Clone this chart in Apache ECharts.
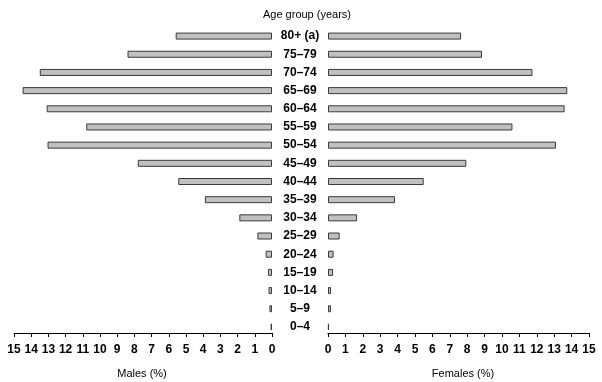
<!DOCTYPE html>
<html>
<head>
<meta charset="utf-8">
<script src="https://cdn.jsdelivr.net/npm/echarts@6/dist/echarts.min.js"></script>
<style>
html,body{margin:0;padding:0;background:#fff;}
#chart{width:602px;height:382px;}
</style>
</head>
<body>
<div id="chart"></div>
<script>
const categories = ['80+ (a)','75–79','70–74','65–69','60–64','55–59','50–54','45–49','40–44','35–39','30–34','25–29','20–24','15–19','10–14','5–9','0–4'];
const males = [5.6, 8.4, 13.5, 14.5, 13.1, 10.8, 13.05, 7.8, 5.45, 3.9, 1.9, 0.85, 0.37, 0.23, 0.2, 0.15, 0.08];
const females = [7.65, 8.85, 11.75, 13.75, 13.6, 10.6, 13.1, 7.95, 5.5, 3.85, 1.67, 0.67, 0.32, 0.29, 0.17, 0.17, 0.05];
const xTicksMin = 0, xTicksMax = 15, xTickStep = 1;
const titleText = 'Age group (years)';
const leftName = 'Males (%)';
const rightName = 'Females (%)';

const FONT = 'Liberation Sans';
const chart = echarts.init(document.getElementById('chart'), null, {renderer:'canvas'});

const gridTop = 27, gridH = 309;
const xAxisCommon = {
  type: 'value', min: xTicksMin, max: xTicksMax, interval: xTickStep,
  offset: -3,
  axisLine: {show: true, lineStyle: {color: '#000', width: 1}},
  axisTick: {show: true, length: 4, lineStyle: {color: '#000', width: 1}},
  axisLabel: {color: '#000', fontFamily: FONT, fontSize: 12, fontWeight: 'bold', margin: 11},
  splitLine: {show: false}
};
const barStyle = {color: '#c0c0c0', borderColor: '#3a3a3a', borderWidth: 1};

chart.setOption({
  animation: false,
  backgroundColor: '#fff',
  title: [
    {text: titleText, left: 302, top: 4, textAlign: 'center',
     textStyle: {fontFamily: FONT, fontSize: 11, fontWeight: 'normal', color: '#000'}},
    {text: leftName, left: 137, top: 363, textAlign: 'center',
     textStyle: {fontFamily: FONT, fontSize: 11, fontWeight: 'normal', color: '#000'}},
    {text: rightName, left: 458, top: 363, textAlign: 'center',
     textStyle: {fontFamily: FONT, fontSize: 11, fontWeight: 'normal', color: '#000'}}
  ],
  grid: [
    {left: 14, width: 258, top: gridTop, height: gridH},
    {left: 328, width: 261, top: gridTop, height: gridH}
  ],
  xAxis: [
    Object.assign({}, xAxisCommon, {gridIndex: 0, inverse: true}),
    Object.assign({}, xAxisCommon, {gridIndex: 1})
  ],
  yAxis: [
    {type: 'category', gridIndex: 0, data: categories, inverse: true, position: 'right',
     axisLine: {show: false}, axisTick: {show: false}, axisLabel: {show: false}},
    {type: 'category', gridIndex: 1, data: categories, inverse: true, position: 'left',
     axisLine: {show: false}, axisTick: {show: false},
     axisLabel: {show: true, align: 'center', margin: 28, color: '#000',
                 fontFamily: FONT, fontSize: 12, fontWeight: 'bold'}}
  ],
  series: [
    {type: 'bar', name: leftName, xAxisIndex: 0, yAxisIndex: 0, data: males,
     barWidth: 7, itemStyle: barStyle},
    {type: 'bar', name: rightName, xAxisIndex: 1, yAxisIndex: 1, data: females,
     barWidth: 7, itemStyle: barStyle}
  ]
});
</script>
</body>
</html>
